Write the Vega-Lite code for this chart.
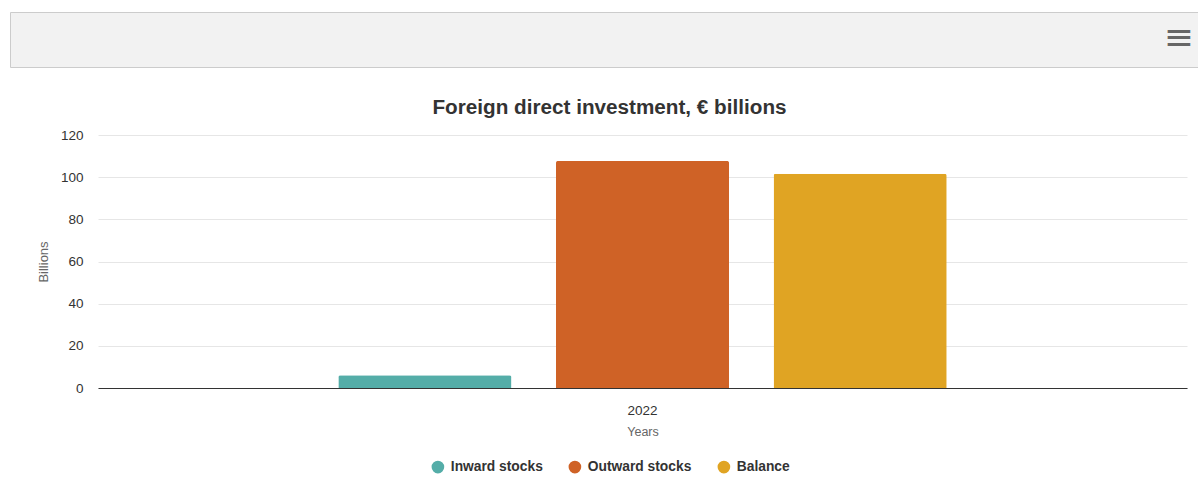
{
  "$schema": "https://vega.github.io/schema/vega-lite/v6.json",
  "background": "white",
  "padding": {"left": 9, "top": 11, "right": 0, "bottom": 0},
  "autosize": {"type": "pad"},
  "columns": 1,
  "align": "none",
  "spacing": 28,
  "resolve": {"legend": {"color": "independent"}, "scale": {"color": "independent"}},
  "config": {
    "font": "Liberation Sans",
    "view": {"stroke": null}
  },
  "concat": [
    {
      "width": 1189,
      "height": 55,
      "view": {"fill": "#f2f2f2", "stroke": "#cccccc"},
      "title": {
        "text": "≡",
        "orient": "top",
        "anchor": "end",
        "frame": "group",
        "baseline": "middle",
        "offset": -62,
        "dx": -5,
        "fontSize": 36,
        "fontWeight": "normal",
        "font": "DejaVu Sans",
        "color": "#666666"
      },
      "data": {"values": [{"label": ""}]},
      "mark": {"type": "text"},
      "encoding": {"text": {"field": "label", "type": "nominal"}}
    },
    {
      "width": 1176,
      "height": 253,
      "title": {
        "text": "Foreign direct investment, € billions",
        "anchor": "middle",
        "frame": "group",
        "baseline": "alphabetic",
        "offset": -6.5,
        "dx": 11.5,
        "fontSize": 20.7,
        "fontWeight": "bold",
        "color": "#333333",
        "font": "Liberation Sans"
      },
      "data": {
        "values": [
          {"year": "2022", "series": "Inward stocks", "value": 6.1},
          {"year": "2022", "series": "Outward stocks", "value": 107.7},
          {"year": "2022", "series": "Balance", "value": 101.6}
        ]
      },
      "mark": {"type": "bar", "cornerRadiusTopLeft": 2, "cornerRadiusTopRight": 2},
      "encoding": {
        "x": {
          "field": "year",
          "type": "nominal",
          "title": "Years",
          "scale": {"paddingInner": 0, "paddingOuter": 0.395, "range": [88, 1177]},
          "axis": {
            "labelAngle": 0,
            "ticks": false,
            "tickSize": 0,
            "domainColor": "#333333",
            "domainWidth": 1,
            "labelFontSize": 13.5,
            "labelColor": "#333333",
            "labelPadding": 15,
            "titleFontSize": 12.5,
            "titleFontWeight": "normal",
            "titleColor": "#666666",
            "titlePadding": 9,
            "grid": false
          }
        },
        "xOffset": {
          "field": "series",
          "type": "nominal",
          "sort": ["Inward stocks", "Outward stocks", "Balance"],
          "scale": {"paddingInner": 0.2046, "paddingOuter": 0}
        },
        "y": {
          "field": "value",
          "type": "quantitative",
          "title": "Billions",
          "scale": {"domain": [0, 120], "nice": false},
          "axis": {
            "values": [0, 20, 40, 60, 80, 100, 120],
            "offset": -88,
            "domain": false,
            "ticks": false,
            "tickSize": 0,
            "gridColor": "#e6e6e6",
            "gridWidth": 1,
            "labelFontSize": 13.5,
            "labelColor": "#333333",
            "labelPadding": 15,
            "titleFontSize": 13,
            "titleFontWeight": "normal",
            "titleColor": "#666666",
            "titleX": -48
          }
        },
        "color": {
          "field": "series",
          "type": "nominal",
          "sort": ["Inward stocks", "Outward stocks", "Balance"],
          "scale": {
            "domain": ["Inward stocks", "Outward stocks", "Balance"],
            "range": ["#54ada8", "#cf6226", "#e0a423"]
          },
          "legend": {
            "title": null,
            "orient": "none",
            "direction": "horizontal",
            "legendX": 421,
            "legendY": 325,
            "padding": 0,
            "symbolType": "circle",
            "symbolSize": 160,
            "symbolStrokeWidth": 0,
            "labelFontSize": 13.8,
            "labelFontWeight": "bold",
            "labelColor": "#333333",
            "labelOffset": 6,
            "columnPadding": 25
          }
        }
      }
    }
  ]
}
